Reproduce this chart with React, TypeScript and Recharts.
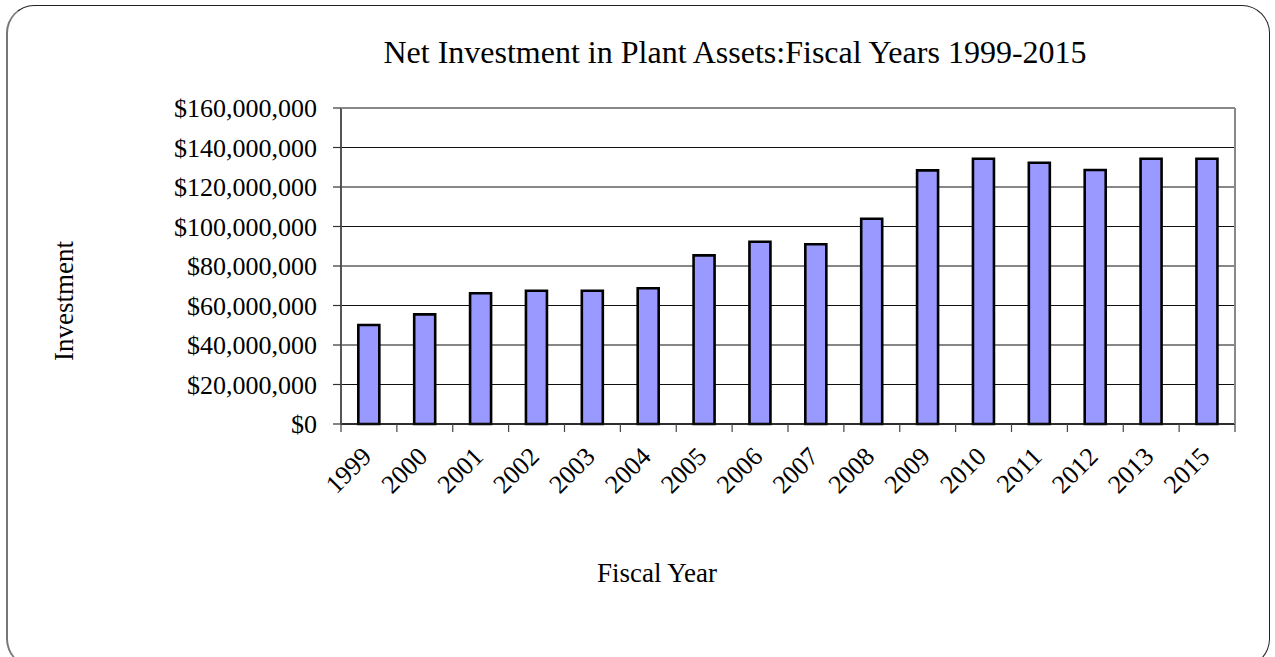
import React from "react";
import { BarChart, Bar, XAxis, YAxis, CartesianGrid } from "recharts";

const years = ["1999","2000","2001","2002","2003","2004","2005","2006","2007","2008","2009","2010","2011","2012","2013","2015"];
const investment = [50.1, 55.5, 66.2, 67.5, 67.5, 68.7, 85.4, 92.3, 91.0, 103.9, 128.4, 134.3, 132.3, 128.6, 134.3, 134.3].map(v => v * 1e6);
const yTicks = [0, 20e6, 40e6, 60e6, 80e6, 100e6, 120e6, 140e6, 160e6];

const data = years.map((y, i) => ({ year: y, value: investment[i] }));

const W = 1275, H = 657;
const LEFT = 341, RIGHT = 1235, TOP = 108, BOTTOM = 424;
const HALF_BAND = (RIGHT - LEFT) / years.length / 2;
const FONT = "'Liberation Serif', 'Times New Roman', serif";

const fmt = (v: number) => "$" + v.toLocaleString("en-US");

const XTick = (props: any) => {
  const { x, y, payload, index } = props;
  const last = index === years.length - 1;
  const ax = x - 2, ay = y + 28;
  return (
    <g>
      <line x1={x - HALF_BAND} y1={y} x2={x - HALF_BAND} y2={y + 8} stroke="#444" strokeWidth={1.2} />
      {last && <line x1={x + HALF_BAND} y1={y} x2={x + HALF_BAND} y2={y + 8} stroke="#444" strokeWidth={1.2} />}
      <text
        x={ax}
        y={ay}
        textAnchor="end"
        transform={`rotate(-45, ${ax}, ${ay})`}
        fontFamily={FONT}
        fontSize={26}
        fill="#000"
        dominantBaseline="central"
      >
        {payload.value}
      </text>
    </g>
  );
};

export default function App() {
  return (
    <div style={{ position: "absolute", left: 0, top: 0, width: W, height: H, background: "#fff", overflow: "hidden" }}>
      <div
        style={{
          position: "absolute",
          left: 6,
          top: 5,
          width: 1264,
          height: 662,
          border: "1px solid #222",
          borderLeft: "2px solid #777",
          borderRadius: 28,
          boxSizing: "border-box",
        }}
      />
      <div style={{ position: "absolute", left: 0, top: 0 }}>
        <BarChart
          width={W}
          height={H}
          data={data}
          margin={{ top: TOP, right: W - RIGHT, left: 0, bottom: H - BOTTOM - 100 }}
          barCategoryGap="31%"
        >
          <CartesianGrid horizontal vertical={false} stroke="#111" strokeWidth={1.2} />
          <XAxis
            dataKey="year"
            height={100}
            interval={0}
            tickLine={false}
            tickSize={0}
            tickMargin={0}
            axisLine={{ stroke: "#111", strokeWidth: 1.5 }}
            tick={<XTick />}
          />
          <YAxis
            width={LEFT}
            domain={[0, 160e6]}
            ticks={yTicks}
            interval={0}
            tickFormatter={fmt}
            tickSize={8}
            tickMargin={16}
            axisLine={{ stroke: "#555", strokeWidth: 2 }}
            tickLine={{ stroke: "#333", strokeWidth: 1.2 }}
            tick={{ fontFamily: FONT, fontSize: 26, fill: "#000" }}
          />
          <Bar dataKey="value" fill="#9999FF" stroke="#000" strokeWidth={2.6} isAnimationActive={false} />
        </BarChart>
      </div>
      <div
        style={{
          position: "absolute",
          left: RIGHT - 1,
          top: TOP,
          width: 2,
          height: BOTTOM - TOP,
          background: "#888",
        }}
      />
      <div
        style={{
          position: "absolute",
          left: LEFT,
          top: TOP - 1,
          width: RIGHT - LEFT,
          height: 2,
          background: "#888",
        }}
      />
      <svg width={W} height={H} style={{ position: "absolute", left: 0, top: 0, pointerEvents: "none" }}>
        <text x={735} y={63} textAnchor="middle" fontFamily={FONT} fontSize={32} fill="#000">
          Net Investment in Plant Assets:Fiscal Years 1999-2015
        </text>
        <text x={73} y={301} textAnchor="middle" transform="rotate(-90, 73, 301)" fontFamily={FONT} fontSize={27} fill="#000">
          Investment
        </text>
        <text x={657} y={582} textAnchor="middle" fontFamily={FONT} fontSize={27} fill="#000">
          Fiscal Year
        </text>
      </svg>
    </div>
  );
}
